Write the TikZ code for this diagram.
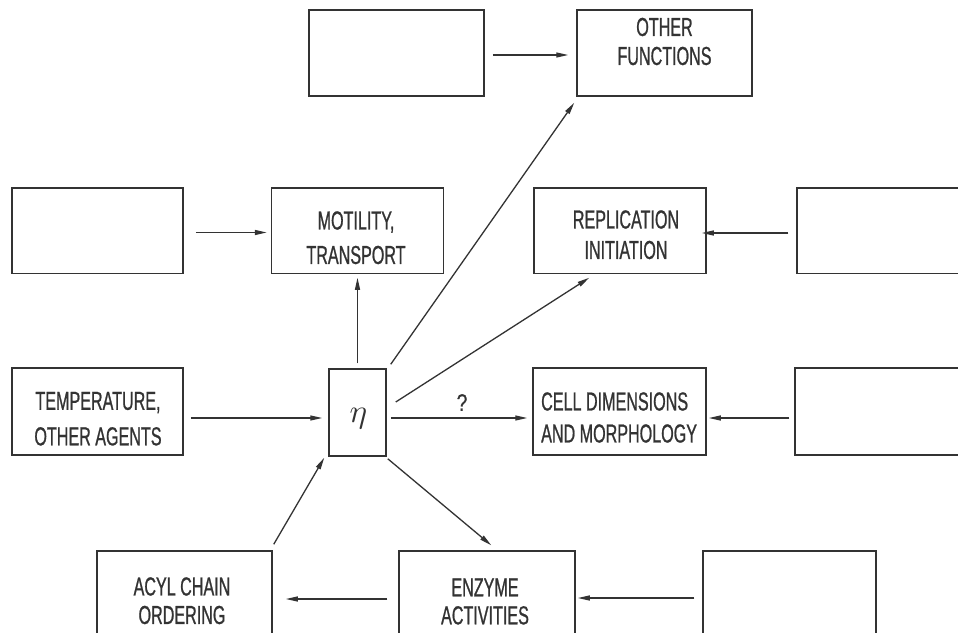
\documentclass[tikz,border=0pt]{standalone}
\usepackage{fontspec}
\newfontfamily\lblfont[FakeStretch=0.62,FakeBold=0.8]{Liberation Sans}
\newfontfamily\qfont[FakeStretch=0.8,FakeBold=0.6]{Liberation Sans}
\usetikzlibrary{arrows.meta,calc}
\definecolor{ink}{HTML}{333333}
\tikzset{
  box/.style={draw=ink, line width=1.5pt, inner sep=0pt, fill=none},
  lbl/.style={text=ink, align=center, inner sep=0pt},
  arr/.style={draw=ink, line width=1.3pt, -{Triangle[length=12pt,width=5pt]}},
}
\newcommand{\lsz}[1]{\lblfont\fontsize{26pt}{#1pt}\selectfont}
\begin{document}
\begin{tikzpicture}[x=1pt,y=-1pt]
\useasboundingbox (0,0) rectangle (958,632);
\fill[white] (0,0) rectangle (958,632);
\clip (0,0) rectangle (958,632);
% row 1
\node[box, minimum width=175pt, minimum height=86pt] (tl) at (396.5,53) {};
\node[box, minimum width=175pt, minimum height=86pt] (oth) at (664.5,53) {};
% row 2
\node[box, minimum width=171pt, minimum height=85.5pt] (l2) at (97.5,230.75) {};
\node[box, minimum width=172pt, minimum height=85.5pt] (mot) at (357.5,230.75) {};
\node[box, minimum width=172pt, minimum height=85.5pt] (rep) at (620,230.75) {};
\node[box, minimum width=183pt, minimum height=85.5pt] (r2) at (888.5,230.75) {};
% row 3
\node[box, minimum width=171pt, minimum height=87pt] (temp) at (97.5,411.5) {};
\node[box, minimum width=57pt, minimum height=87pt] (eta) at (357.5,412.5) {};
\node[box, minimum width=173pt, minimum height=87pt] (cell) at (619.5,411.5) {};
\node[box, minimum width=185pt, minimum height=87pt] (r3) at (887.5,411.5) {};
% row 4
\node[box, minimum width=175pt, minimum height=99pt] (acyl) at (184.5,600.5) {};
\node[box, minimum width=176pt, minimum height=99pt] (enz) at (487,600.5) {};
\node[box, minimum width=173pt, minimum height=99pt] (br) at (789.5,600.5) {};
% labels
\node[lbl, font=\lsz{29}] (toth) at (664.5,41.5) {OTHER\\FUNCTIONS};
\node[lbl, font=\lsz{34.5}] (tmot) at (356,237.75) {MOTILITY,\\TRANSPORT};
\node[lbl, font=\lsz{30.5}] (trep) at (626,234.75) {REPLICATION\\INITIATION};
\node[lbl, font=\lsz{35.5}] (ttemp) at (98,418.75) {TEMPERATURE,\\OTHER AGENTS};
\node[lbl, font=\lsz{32}, align=left, anchor=west] (tcell) at (541,417.5) {CELL DIMENSIONS\\AND MORPHOLOGY};
\node[lbl, font=\lsz{28.5}] (tacyl) at (182,600.75) {ACYL CHAIN\\ORDERING};
\node[lbl, font=\lsz{28}] (tenz) at (485,601.5) {ENZYME\\ACTIVITIES};
\node[text=ink, inner sep=0pt] (teta) at (358.5,419) {\scalebox{3.3}{$\eta$}};
% arrows
\draw[arr] ($(tl.east)+(8,2)$) -- ($(oth.west)+(-8,2)$);
\draw[arr] ($(l2.east)+(12,1.75)$) -- ($(mot.west)+(-4,1.75)$);
\draw[arr] ($(r2.west)+(-8,2.25)$) -- ($(rep.east)+(-5,2.25)$);
\draw[arr] ($(temp.east)+(7,6.5)$) -- ($(eta.west)+(-6,5.5)$);
\draw[arr] ($(eta.east)+(4,5.5)$) -- ($(cell.west)+(-5,6.5)$);
\node[text=ink, inner sep=0pt, font=\qfont\fontsize{24pt}{26pt}\selectfont] (q) at (462,402.5) {?};
\draw[arr] ($(r3.west)+(-5,6.5)$) -- ($(cell.east)+(2,6.5)$);
\draw[arr] ($(br.west)+(-8,-2.5)$) -- ($(enz.east)+(2,-2.5)$);
\draw[arr] ($(enz.west)+(-11,-1.5)$) -- ($(acyl.east)+(13,-1.5)$);
% diagonal / vertical arrows from eta
\draw[arr] ($(eta.north)+(0,-5)$) -- ($(mot.south)+(0,3.5)$);
\draw[arr] ($(eta.north east)+(4,-4)$) -- ($(oth.south west)+(-2,6)$);
\draw[arr] ($(eta.east)+(9,-10.5)$) -- ($(rep.south west)+(56,3.5)$);
\draw[arr] ($(eta.south east)+(1,2)$) -- ($(enz.north west)+(93,-5)$);
\draw[arr] ($(acyl.north east)+(1,-6)$) -- ($(eta.south west)+(-4,1)$);
\end{tikzpicture}
\end{document}
